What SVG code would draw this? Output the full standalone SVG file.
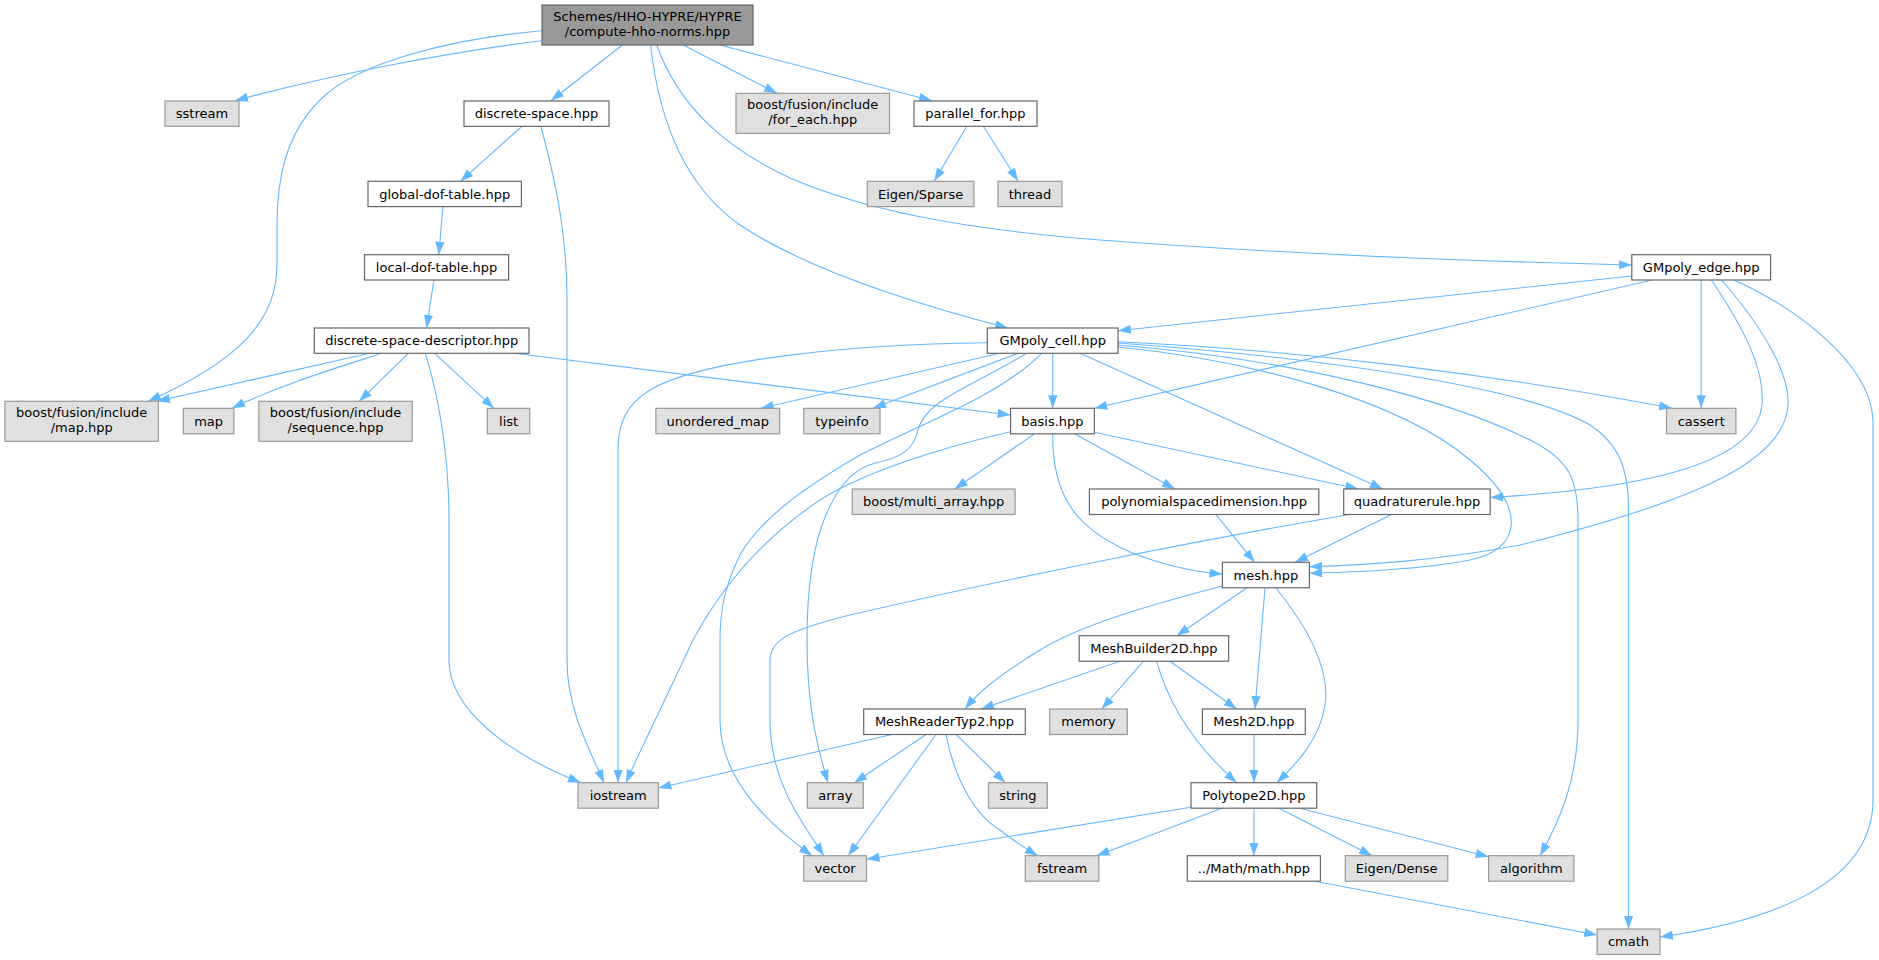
<svg xmlns="http://www.w3.org/2000/svg" width="1879" height="960" viewBox="0 0 1879 960">
<style>
.e{fill:none;stroke:#63b8ff;stroke-width:1.1;marker-end:url(#ah)}
.n rect{fill:#ffffff;stroke:#666666;stroke-width:1.2}
.g rect{fill:#e0e0e0;stroke:#999999;stroke-width:1.2}
.r rect{fill:#999999;stroke:#666666;stroke-width:1.2}
text{font-family:"DejaVu Sans","Liberation Sans",sans-serif;font-size:13px;fill:#000000;text-anchor:middle}
</style>
<defs>
<marker id="ah" markerUnits="userSpaceOnUse" markerWidth="14" markerHeight="10" refX="13" refY="4.6" orient="auto">
<path d="M0,0 L13,4.6 L0,9.2 z" fill="#63b8ff"/>
</marker>
</defs>
<rect width="1879" height="960" fill="#ffffff"/>
<g id="edges">
<path class="e" d="M541.6,40.7 C450,52 330,75 235,100.7"/>
<path class="e" d="M541.6,30.7 C460,38 360,60 320,100 C285,135 277,180 277,225 L277,265 C277,320 240,360 148,401.3"/>
<path class="e" d="M622.4,45 L551,100.7"/>
<path class="e" d="M683.3,45 L777,93.3"/>
<path class="e" d="M720,45 L932,100.7"/>
<path class="e" d="M650.6,45 C660,130 690,190 740,225 C800,265 900,300 1008,328"/>
<path class="e" d="M656.7,45 C680,110 730,150 790,178 C860,208 950,228 1100,240 C1300,255 1500,262 1631.8,265"/>
<path class="e" d="M522.4,126 L460.4,181.3"/>
<path class="e" d="M540.8,126 C558,190 567,240 567,300 L567,660 C567,710 590,750 604,782.7"/>
<path class="e" d="M442.9,206.7 L438.8,254.7"/>
<path class="e" d="M433.9,280 L426.5,328"/>
<path class="e" d="M369.4,353.3 L157,401.3"/>
<path class="e" d="M381.6,353.3 C330,370 280,385 232,408.3"/>
<path class="e" d="M408.2,353.3 L359.2,401.3"/>
<path class="e" d="M434.7,353.3 L494,408.3"/>
<path class="e" d="M425.3,353.3 C440,400 449,460 449,520 L449,660 C449,710 510,755 581,782.7"/>
<path class="e" d="M514.3,353.3 L1010.6,415"/>
<path class="e" d="M967,126 L934.3,181"/>
<path class="e" d="M983.3,126 L1018,181"/>
<path class="e" d="M1631.8,276 L1118,330.7"/>
<path class="e" d="M1652.2,280 L1094.3,408.3"/>
<path class="e" d="M1701.2,280 L1701.2,408.3"/>
<path class="e" d="M1711.4,280 C1745,330 1765,370 1762,405 C1755,470 1620,490 1490.2,497.5"/>
<path class="e" d="M1721.6,280 C1765,330 1790,375 1788,405 C1785,460 1700,500 1520,545 C1430,562 1360,565 1309.4,566.7"/>
<path class="e" d="M1733.9,280 C1790,305 1870,360 1873,420 L1873,800 C1873,880 1780,920 1660,937"/>
<path class="e" d="M987.3,342.7 C850,344 700,360 650,390 C625,405 618,425 618,450 L618,782.7"/>
<path class="e" d="M999.6,353.3 L760.8,408.3"/>
<path class="e" d="M1018,353.3 L873,408.3"/>
<path class="e" d="M1052.7,353.3 L1052.7,408.3"/>
<path class="e" d="M1041.7,353.3 C1000,395 930,420 860,455 C800,490 760,520 740,555 C725,585 720,610 720,640 L720,720 C720,780 770,825 812,855.7"/>
<path class="e" d="M1026.7,353.3 C975,385 925,400 918,430 C914,450 900,458 875,463 C850,470 835,490 822,525 C810,560 807,600 807,640 C807,700 815,740 828,782.7"/>
<path class="e" d="M1080,353.3 L1382.9,489"/>
<path class="e" d="M1118,347 C1250,360 1400,400 1470,460 C1530,510 1520,550 1470,560 C1420,570 1350,572 1309.4,573.3"/>
<path class="e" d="M1118,341.7 C1300,350 1500,375 1672,408.3"/>
<path class="e" d="M1118,345 C1300,360 1450,400 1530,440 C1570,460 1578,480 1578,520 L1578,720 C1578,780 1560,820 1540,855.7"/>
<path class="e" d="M1118,343 C1350,360 1530,390 1590,425 C1620,445 1628.5,470 1628.5,510 L1628.5,929"/>
<path class="e" d="M1034.3,434 L954.7,489"/>
<path class="e" d="M1075,434 L1175,489"/>
<path class="e" d="M1094.3,432.3 L1358.4,489"/>
<path class="e" d="M1052.7,434 C1052,500 1080,530 1130,552 C1165,566 1195,572 1222.4,574"/>
<path class="e" d="M1010.6,431.7 C930,450 860,475 820,500 C760,540 720,590 693,640 C670,690 640,750 626,782.7"/>
<path class="e" d="M1216,514.7 L1254.7,562.3"/>
<path class="e" d="M1391,514.7 L1295,562.3"/>
<path class="e" d="M1348,514.7 C1200,540 1000,580 850,615 C790,630 770,640 770,660 L770,720 C770,780 800,820 824,855.7"/>
<path class="e" d="M1246.7,588 L1176.7,635.7"/>
<path class="e" d="M1222.3,586 C1150,605 1080,625 1040,650 C1000,675 980,690 965,709"/>
<path class="e" d="M1265,588 L1255,709"/>
<path class="e" d="M1276,588 C1310,630 1330,670 1325,705 C1320,740 1295,765 1277,782.7"/>
<path class="e" d="M1120,661.3 L981,709"/>
<path class="e" d="M1143.3,661.3 L1101.7,709"/>
<path class="e" d="M1170,661.3 L1236.7,709"/>
<path class="e" d="M1156.7,661.3 C1170,710 1200,750 1236.7,782.7"/>
<path class="e" d="M1254,734.7 L1254,782.7"/>
<path class="e" d="M891,734.7 L658.4,788"/>
<path class="e" d="M925.7,734.7 L854.3,782.7"/>
<path class="e" d="M935.9,734.7 L848.2,855.7"/>
<path class="e" d="M956.3,734.7 L1005.3,782.7"/>
<path class="e" d="M946,734.7 C955,780 975,815 1000,830 C1015,842 1028,850 1038,855.7"/>
<path class="e" d="M1191,807.3 L866.5,859.3"/>
<path class="e" d="M1222.4,808 L1096.7,855.7"/>
<path class="e" d="M1253.9,808 L1253.9,855.7"/>
<path class="e" d="M1278.4,808 L1372.2,855.7"/>
<path class="e" d="M1298.8,808 L1488.6,856.7"/>
<path class="e" d="M1315,881.3 L1597.1,935"/>
</g>
<g id="root" class="r"><rect x="542" y="5" width="211" height="40"/><text x="647.5" y="21">Schemes/HHO-HYPRE/HYPRE</text><text x="647.5" y="36">/compute-hho-norms.hpp</text></g>
<g id="sstream" class="g"><rect x="165" y="101" width="74" height="25.3"/><text x="202" y="118">sstream</text></g>
<g id="discrete-space" class="n"><rect x="464" y="101" width="145" height="25.3"/><text x="536.5" y="118">discrete-space.hpp</text></g>
<g id="for-each" class="g"><rect x="736" y="93.3" width="153.5" height="40"/><text x="812.7" y="109.3">boost/fusion/include</text><text x="812.7" y="124.3">/for_each.hpp</text></g>
<g id="parallel-for" class="n"><rect x="914" y="101" width="123" height="25.3"/><text x="975.4" y="118">parallel_for.hpp</text></g>
<g id="global-dof-table" class="n"><rect x="368" y="181.3" width="153.4" height="25.3"/><text x="444.7" y="198.5">global-dof-table.hpp</text></g>
<g id="eigen-sparse" class="g"><rect x="867.3" y="181.3" width="106.6" height="25.3"/><text x="920.6" y="198.5">Eigen/Sparse</text></g>
<g id="thread" class="g"><rect x="998" y="181.3" width="64" height="25.3"/><text x="1030" y="198.5">thread</text></g>
<g id="local-dof-table" class="n"><rect x="364.5" y="254.7" width="144.1" height="25.3"/><text x="436.6" y="272">local-dof-table.hpp</text></g>
<g id="gmpoly-edge" class="n"><rect x="1631.8" y="254.7" width="138.8" height="25.3"/><text x="1701.2" y="272">GMpoly_edge.hpp</text></g>
<g id="discrete-space-descriptor" class="n"><rect x="314.3" y="328" width="214.7" height="25.3"/><text x="421.7" y="345.3">discrete-space-descriptor.hpp</text></g>
<g id="gmpoly-cell" class="n"><rect x="987.3" y="328" width="130.7" height="25.3"/><text x="1052.7" y="345.3">GMpoly_cell.hpp</text></g>
<g id="fusion-map" class="g"><rect x="4.9" y="401.3" width="153.5" height="40"/><text x="81.7" y="417.3">boost/fusion/include</text><text x="81.7" y="432.3">/map.hpp</text></g>
<g id="map" class="g"><rect x="183.3" y="408.3" width="50.6" height="25.5"/><text x="208.6" y="425.6">map</text></g>
<g id="fusion-sequence" class="g"><rect x="258.8" y="401.3" width="153.4" height="40"/><text x="335.5" y="417.3">boost/fusion/include</text><text x="335.5" y="432.3">/sequence.hpp</text></g>
<g id="list" class="g"><rect x="487.3" y="408.3" width="42.5" height="25.5"/><text x="508.6" y="425.6">list</text></g>
<g id="unordered-map" class="g"><rect x="655.9" y="408.3" width="123.7" height="25.5"/><text x="717.8" y="425.6">unordered_map</text></g>
<g id="typeinfo" class="g"><rect x="803.7" y="408.3" width="76.3" height="25.5"/><text x="841.9" y="425.6">typeinfo</text></g>
<g id="basis" class="n"><rect x="1010.6" y="408.3" width="83.7" height="25.5"/><text x="1052.5" y="425.6">basis.hpp</text></g>
<g id="cassert" class="g"><rect x="1666.5" y="408.3" width="69.4" height="25.5"/><text x="1701.2" y="425.6">cassert</text></g>
<g id="multi-array" class="g"><rect x="852.2" y="489" width="162.9" height="25.5"/><text x="933.7" y="506.3">boost/multi_array.hpp</text></g>
<g id="polynomialspacedimension" class="n"><rect x="1089.4" y="489" width="229.4" height="25.5"/><text x="1204.1" y="506.3">polynomialspacedimension.hpp</text></g>
<g id="quadraturerule" class="n"><rect x="1343.7" y="489" width="146.5" height="25.5"/><text x="1417" y="506.3">quadraturerule.hpp</text></g>
<g id="mesh" class="n"><rect x="1222.4" y="562.3" width="87" height="25.5"/><text x="1265.9" y="579.6">mesh.hpp</text></g>
<g id="meshbuilder2d" class="n"><rect x="1079.2" y="635.7" width="149.4" height="25.5"/><text x="1153.9" y="653">MeshBuilder2D.hpp</text></g>
<g id="meshreadertyp2" class="n"><rect x="863.7" y="709" width="161.6" height="25.5"/><text x="944.5" y="726.3">MeshReaderTyp2.hpp</text></g>
<g id="memory" class="g"><rect x="1049.7" y="709" width="77.6" height="25.5"/><text x="1088.5" y="726.3">memory</text></g>
<g id="mesh2d" class="n"><rect x="1202.4" y="709" width="102.9" height="25.5"/><text x="1253.9" y="726.3">Mesh2D.hpp</text></g>
<g id="iostream" class="g"><rect x="578" y="782.7" width="80.4" height="25.5"/><text x="618.2" y="800">iostream</text></g>
<g id="array" class="g"><rect x="807.3" y="782.7" width="56" height="25.5"/><text x="835.3" y="800">array</text></g>
<g id="string" class="g"><rect x="988.5" y="782.7" width="58.8" height="25.5"/><text x="1017.9" y="800">string</text></g>
<g id="polytope2d" class="n"><rect x="1191" y="782.7" width="125.7" height="25.5"/><text x="1253.9" y="800">Polytope2D.hpp</text></g>
<g id="vector" class="g"><rect x="803.7" y="855.7" width="62.8" height="25.5"/><text x="835.1" y="873">vector</text></g>
<g id="fstream" class="g"><rect x="1025.3" y="855.7" width="73.5" height="25.5"/><text x="1062" y="873">fstream</text></g>
<g id="math" class="n"><rect x="1187.3" y="855.7" width="133.1" height="25.5"/><text x="1253.9" y="873">../Math/math.hpp</text></g>
<g id="eigen-dense" class="g"><rect x="1345.3" y="855.7" width="102.5" height="25.5"/><text x="1396.6" y="873">Eigen/Dense</text></g>
<g id="algorithm" class="g"><rect x="1488.6" y="855.7" width="85.3" height="25.5"/><text x="1531.3" y="873">algorithm</text></g>
<g id="cmath" class="g"><rect x="1597.1" y="929" width="62.9" height="25.5"/><text x="1628.5" y="946.3">cmath</text></g>
</svg>
